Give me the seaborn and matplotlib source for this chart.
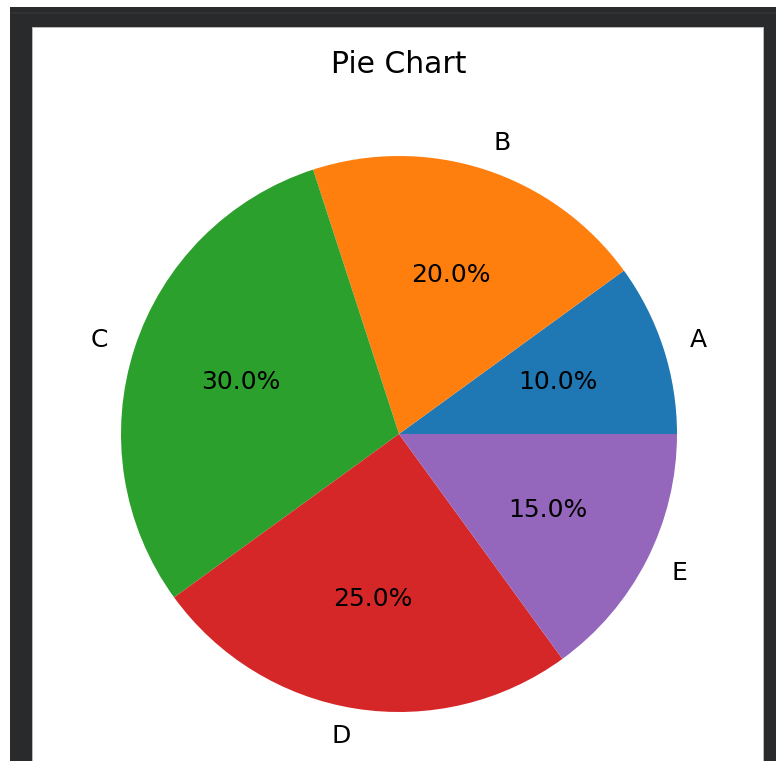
import matplotlib
matplotlib.use("Agg")
import matplotlib.pyplot as plt
from matplotlib.patches import Rectangle
import seaborn as sns

# data
labels = ['A', 'B', 'C', 'D', 'E']
sizes = [10, 20, 30, 25, 15]
colors = sns.color_palette('tab10', 5)

W, H = 776, 761
fig = plt.figure(figsize=(W / 100, H / 100), dpi=100, facecolor='white')

def px_rect(x0, y0, x1, y1, color):
    # rectangle in pixel coords measured from top-left
    fig.patches.append(Rectangle((x0 / W, 1 - y1 / H), (x1 - x0) / W, (y1 - y0) / H,
                                 transform=fig.transFigure, facecolor=color,
                                 edgecolor='none', zorder=-10))

# dark screenshot frame around the white figure
px_rect(10, 7, 776, 761, '#292a2c')
px_rect(10, 12, 776, 14, '#303133')
px_rect(32, 27, 764, 761, '#b8b8b8')
px_rect(33, 28, 763, 761, 'white')

# pie axes: centre (399, 434), radius 278 px
r = 278
cx, cy = 399, 434
half = 1.25 * r
ax = fig.add_axes([(cx - half) / W, 1 - (cy + half) / H, 2 * half / W, 2 * half / H])
ax.set_facecolor('none')
ax.set_zorder(5)

ax.pie(sizes, labels=labels, colors=colors, autopct='%1.1f%%',
       textprops={'fontsize': 18})
ax.set_title('Pie Chart', fontsize=21.5, pad=10)

fig.savefig('out.png', dpi=100, facecolor=fig.get_facecolor())
